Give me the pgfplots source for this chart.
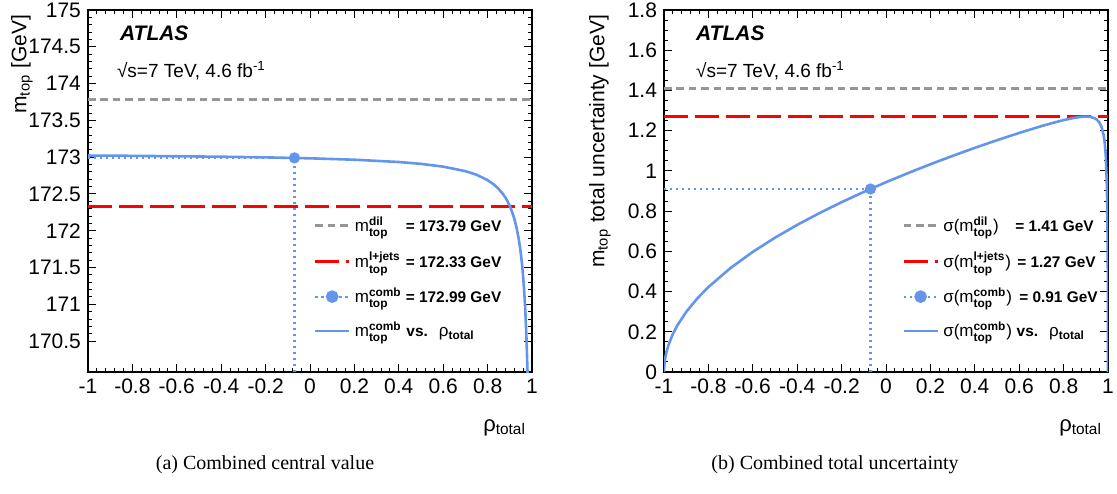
\documentclass[border=0pt]{standalone}
\usepackage{fontspec}
\setmainfont{Liberation Sans}
\newfontfamily\timesfont{Liberation Serif}
\usepackage{amsmath}
\usepackage{pgfplots}
\usepackage{pgfplotstable}
\pgfplotsset{compat=1.18}

\definecolor{cblue}{RGB}{100,149,237}
\definecolor{cgray}{RGB}{150,150,150}
\definecolor{cred}{RGB}{255,0,0}

% combined central value vs rho_total
\pgfplotstableread{
rho m
-1 173.022
-0.9 173.020
-0.8 173.018
-0.6 173.012
-0.4 173.006
-0.2 172.997
0 172.984
0.2 172.965
0.4 172.934
0.5 172.909
0.6 172.871
0.7 172.810
0.75 172.761
0.8 172.688
0.83 172.624
0.85 172.568
0.87 172.496
0.88 172.451
0.89 172.398
0.9 172.335
0.91 172.259
0.92 172.165
0.93 172.047
0.94 171.892
0.945 171.795
0.95 171.681
0.955 171.545
0.96 171.378
0.965 171.170
0.97 170.904
0.975 170.550
0.98 170.058
0.985 169.320
}\mcurve

% combined total uncertainty vs rho_total
\pgfplotstableread{
rho s
-1 0
-0.999 0.0299
-0.995 0.0668
-0.99 0.0945
-0.98 0.1336
-0.96 0.1890
-0.94 0.2315
-0.9 0.2988
-0.85 0.3659
-0.8 0.4225
-0.7 0.5174
-0.6 0.5974
-0.5 0.6679
-0.4 0.7315
-0.3 0.7900
-0.2 0.8444
-0.1 0.8954
0 0.9437
0.1 0.9894
0.2 1.0330
0.3 1.0747
0.4 1.1145
0.5 1.1526
0.6 1.1888
0.7 1.2226
0.75 1.2383
0.8 1.2525
0.85 1.2642
0.88 1.2688
0.9 1.2700
0.92 1.2685
0.94 1.2617
0.95 1.2545
0.96 1.2424
0.97 1.2213
0.98 1.1797
0.985 1.1411
0.99 1.0731
0.995 0.9234
0.998 0.6920
0.999 0.5259
0.9995 0.3871
0.9998 0.2512
1 0
}\scurve

\pgfplotsset{
  atl/.style={
    scale only axis, width=222pt, height=181pt,
    xmin=-1, xmax=1,
    xtick={-1,-0.8,-0.6,-0.4,-0.2,0,0.2,0.4,0.6,0.8,1},
    minor x tick num=4,
    tick align=inside,
    major tick length=4pt, minor tick length=2pt,
    axis line style={line width=0.8pt},
    every tick/.style={black, line width=0.5pt},
    tick label style={font=\fontsize{10.5}{12}\selectfont},
    /pgf/number format/assume math mode=true,
    legend cell align=left,
    legend style={draw=none, fill=none, font=\fontsize{8.5}{10}\selectfont,
      row sep=4.5pt, inner sep=0pt},
  },
  gline/.style={cgray, line width=1.5pt, dash pattern=on 3.8pt off 2.4pt},
  rline/.style={cred, line width=1.6pt, dash pattern=on 12pt off 3.5pt},
  bdot/.style={cblue, line width=1.1pt, dash pattern=on 1.2pt off 1.8pt},
  bcurve/.style={cblue, line width=1.3pt},
}

\newcommand{\mt}[1]{\text{m}^{\textbf{#1}}_{\textbf{top}}}
\newcommand{\val}[1]{{\fontsize{7.7}{9}\selectfont\bfseries #1}}

\begin{document}
\begin{tikzpicture}
\path[use as bounding box] (0,0) rectangle (558.5pt,246.5pt);

% ---------- (a) ----------
\begin{axis}[atl, at={(44pt,60.5pt)}, anchor=south west,
  ymin=170.08, ymax=175,
  ytick={170.5,171,171.5,172,172.5,173,173.5,174,174.5,175},
  minor y tick num=4,
  legend style={at={(rel axis cs:0.507,0.44)}, anchor=north west}]
\addplot[gline, forget plot] coordinates {(-1,173.79) (1,173.79)};
\addplot[rline, forget plot] coordinates {(-1,172.33) (1,172.33)};
\addplot[bdot, forget plot] coordinates {(-1,172.99) (-0.07,172.99)};
\addplot[bdot, forget plot] coordinates {(-0.07,170.08) (-0.07,172.99)};
\addplot[bcurve, forget plot] table[x=rho, y=m] {\mcurve};
\addplot[cblue, only marks, mark=*, mark size=2.6pt, forget plot] coordinates {(-0.07,172.99)};
\addlegendimage{gline}
\addlegendentry{\makebox[25.5pt][l]{$\mt{dil}$}\val{= 173.79 GeV}}
\addlegendimage{rline}
\addlegendentry{\makebox[25.5pt][l]{$\mt{l+jets}$}\val{= 172.33 GeV}}
\addlegendimage{bdot, mark=*, mark size=2.6pt, mark options={solid}}
\addlegendentry{\makebox[25.5pt][l]{$\mt{comb}$}\val{= 172.99 GeV}}
\addlegendimage{bcurve}
\addlegendentry{$\mt{comb}$ \val{vs.} \ ρ$_{\textbf{total}}$}
\end{axis}

\node[anchor=base west, font=\fontsize{10.5}{12}\selectfont\bfseries\itshape] at (56.5pt,226pt) {ATLAS};
\node[anchor=base west, font=\fontsize{9.5}{11}\selectfont] at (55pt,207.5pt) {√s=7 TeV, 4.6 fb$^{\text{-1}}$};
\node[rotate=90, anchor=east, font=\fontsize{10.5}{12}\selectfont] at (11pt,242.5pt) {$\text{m}_{\text{top}}$ [GeV]};
\node[anchor=base east, font=\fontsize{11}{12}\selectfont] at (266.5pt,31pt) {ρ$_{\text{total}}$};
\node[font=\timesfont\fontsize{10}{12}\selectfont] at (132.5pt,14pt) {(a) Combined central value};

% ---------- (b) ----------
\begin{axis}[atl, at={(332pt,60.5pt)}, anchor=south west,
  ymin=0, ymax=1.8,
  ytick={0,0.2,0.4,0.6,0.8,1,1.2,1.4,1.6,1.8},
  minor y tick num=3,
  legend style={at={(rel axis cs:0.535,0.44)}, anchor=north west}]
\addplot[gline, forget plot] coordinates {(-1,1.41) (1,1.41)};
\addplot[rline, forget plot] coordinates {(-1,1.27) (1,1.27)};
\addplot[bdot, forget plot] coordinates {(-1,0.91) (-0.07,0.91)};
\addplot[bdot, forget plot] coordinates {(-0.07,0) (-0.07,0.91)};
\addplot[bcurve, forget plot] table[x=rho, y=s] {\scurve};
\addplot[cblue, only marks, mark=*, mark size=2.6pt, forget plot] coordinates {(-0.07,0.91)};
\addlegendimage{gline}
\addlegendentry{\makebox[36pt][l]{σ($\mt{dil}$)}\val{= 1.41 GeV}}
\addlegendimage{rline}
\addlegendentry{\makebox[37pt][l]{σ($\mt{l+jets}$)}\val{= 1.27 GeV}}
\addlegendimage{bdot, mark=*, mark size=2.6pt, mark options={solid}}
\addlegendentry{\makebox[38pt][l]{σ($\mt{comb}$)}\val{= 0.91 GeV}}
\addlegendimage{bcurve}
\addlegendentry{σ($\mt{comb}$) \val{vs.} \ ρ$_{\textbf{total}}$}
\end{axis}

\node[anchor=base west, font=\fontsize{10.5}{12}\selectfont\bfseries\itshape] at (344.5pt,226pt) {ATLAS};
\node[anchor=base west, font=\fontsize{9.5}{11}\selectfont] at (344.5pt,207.5pt) {√s=7 TeV, 4.6 fb$^{\text{-1}}$};
\node[rotate=90, anchor=east, font=\fontsize{10.5}{12}\selectfont] at (300pt,242.5pt) {$\text{m}_{\text{top}}$ total uncertainty [GeV]};
\node[anchor=base east, font=\fontsize{11}{12}\selectfont] at (554.5pt,31pt) {ρ$_{\text{total}}$};
\node[font=\timesfont\fontsize{10}{12}\selectfont] at (417.5pt,14pt) {(b) Combined total uncertainty};
\end{tikzpicture}
\end{document}
